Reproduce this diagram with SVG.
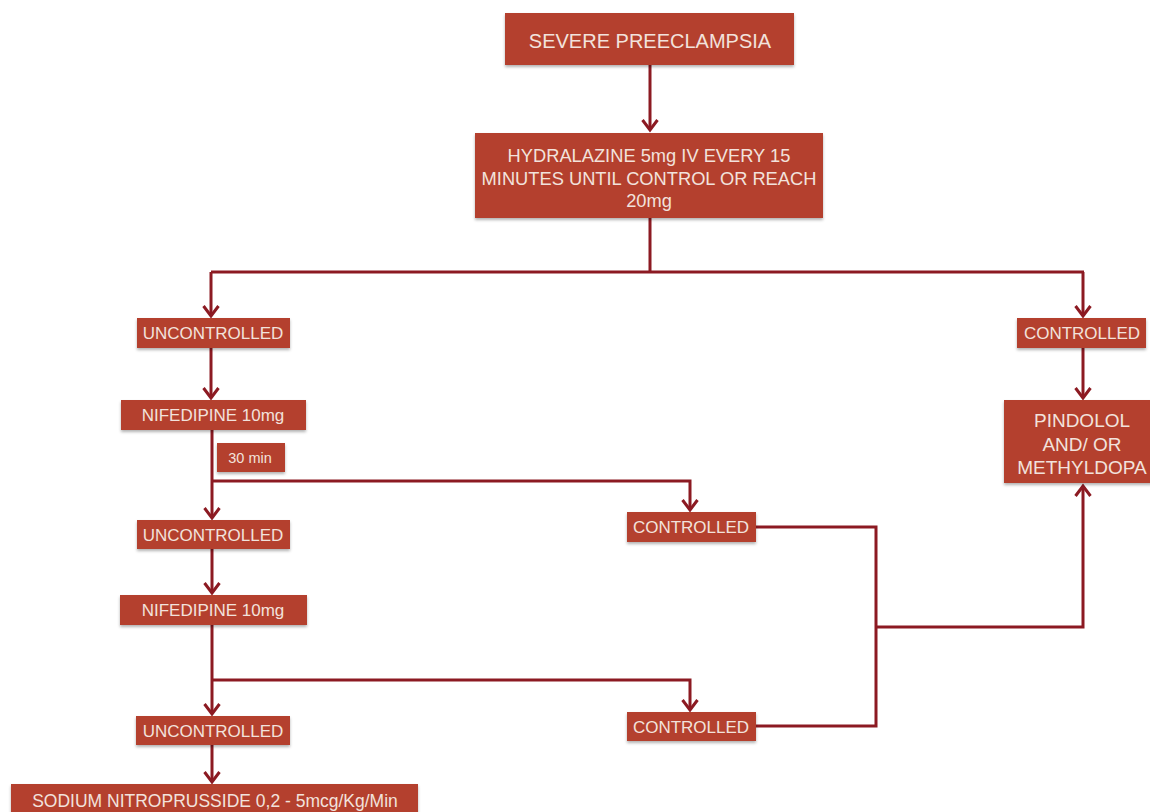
<svg xmlns="http://www.w3.org/2000/svg" width="1150" height="812" viewBox="0 0 1150 812">
<defs>
<style>
.box{fill:#b4412f;filter:url(#sh)}
.t{font-family:"Liberation Sans",Arial,sans-serif;fill:#f2e2dc;text-anchor:middle}
.ln{fill:none;stroke:#8c1a22;stroke-width:3}
</style>
<filter id="sh" x="-10%" y="-10%" width="120%" height="140%">
<feDropShadow dx="0" dy="2" stdDeviation="1.5" flood-color="#000" flood-opacity="0.3"/>
</filter>
<marker id="ah" markerUnits="userSpaceOnUse" markerWidth="20" markerHeight="20" viewBox="-12 -10 14 20" refX="0" refY="0" orient="auto">
<path d="M-10,-7.5 L0,0 L-10,7.5" fill="none" stroke="#8c1a22" stroke-width="3"/>
</marker>
</defs>
<rect width="1150" height="812" fill="#ffffff"/>
<g id="connectors">
<path class="ln" d="M650,65 V130" marker-end="url(#ah)"/>
<path class="ln" d="M650,218 V272 M211,272 H1084"/>
<path class="ln" d="M211,272 V316" marker-end="url(#ah)"/>
<path class="ln" d="M1083,272 V316" marker-end="url(#ah)"/>
<path class="ln" d="M211,348 V398" marker-end="url(#ah)"/>
<path class="ln" d="M1083,348 V398" marker-end="url(#ah)"/>
<path class="ln" d="M212,430 V518" marker-end="url(#ah)"/>
<path class="ln" d="M212,481 H690 V510" marker-end="url(#ah)"/>
<path class="ln" d="M212,549 V593" marker-end="url(#ah)"/>
<path class="ln" d="M212,625 V714" marker-end="url(#ah)"/>
<path class="ln" d="M212,680 H690 V710" marker-end="url(#ah)"/>
<path class="ln" d="M212,745 V782" marker-end="url(#ah)"/>
<path class="ln" d="M756,527 H876 V726 H756"/>
<path class="ln" d="M876,627 H1083 V486" marker-end="url(#ah)"/>
</g>
<g id="n-severe"><rect class="box" x="505" y="13" width="289" height="52"/><text class="t" x="650" y="48" font-size="20">SEVERE PREECLAMPSIA</text></g>
<g id="n-hydralazine"><rect class="box" x="475" y="133" width="348" height="85"/>
<text class="t" x="649" y="162" font-size="18.3">HYDRALAZINE 5mg IV EVERY 15</text>
<text class="t" x="649" y="185" font-size="18.3">MINUTES UNTIL CONTROL OR REACH</text>
<text class="t" x="649" y="207" font-size="18.3">20mg</text></g>
<g id="n-unc1"><rect class="box" x="137" y="318" width="153" height="30"/><text class="t" x="213" y="339" font-size="17">UNCONTROLLED</text></g>
<g id="n-con1"><rect class="box" x="1017" y="318" width="129" height="30"/><text class="t" x="1082" y="339" font-size="17">CONTROLLED</text></g>
<g id="n-nif1"><rect class="box" x="121" y="400" width="185" height="30"/><text class="t" x="213" y="421" font-size="17">NIFEDIPINE 10mg</text></g>
<g id="n-pindolol"><rect class="box" x="1004" y="400" width="150" height="83"/>
<text class="t" x="1082" y="427" font-size="19">PINDOLOL</text>
<text class="t" x="1082" y="451" font-size="19">AND/ OR</text>
<text class="t" x="1082" y="474" font-size="19">METHYLDOPA</text></g>
<g id="n-30min"><rect class="box" x="217" y="443" width="68" height="29"/><text class="t" x="250" y="463" font-size="14.5">30 min</text></g>
<g id="n-con2"><rect class="box" x="627" y="512" width="129" height="30"/><text class="t" x="691" y="533" font-size="17">CONTROLLED</text></g>
<g id="n-unc2"><rect class="box" x="137" y="520" width="153" height="29"/><text class="t" x="213" y="541" font-size="17">UNCONTROLLED</text></g>
<g id="n-nif2"><rect class="box" x="120" y="595" width="187" height="30"/><text class="t" x="213" y="616" font-size="17">NIFEDIPINE 10mg</text></g>
<g id="n-con3"><rect class="box" x="627" y="712" width="129" height="29"/><text class="t" x="691" y="733" font-size="17">CONTROLLED</text></g>
<g id="n-unc3"><rect class="box" x="136" y="716" width="154" height="29"/><text class="t" x="213" y="737" font-size="17">UNCONTROLLED</text></g>
<g id="n-sodium"><rect class="box" x="11" y="784" width="407" height="32"/><text class="t" x="215" y="807" font-size="17.5">SODIUM NITROPRUSSIDE 0,2 - 5mcg/Kg/Min</text></g>
</svg>
